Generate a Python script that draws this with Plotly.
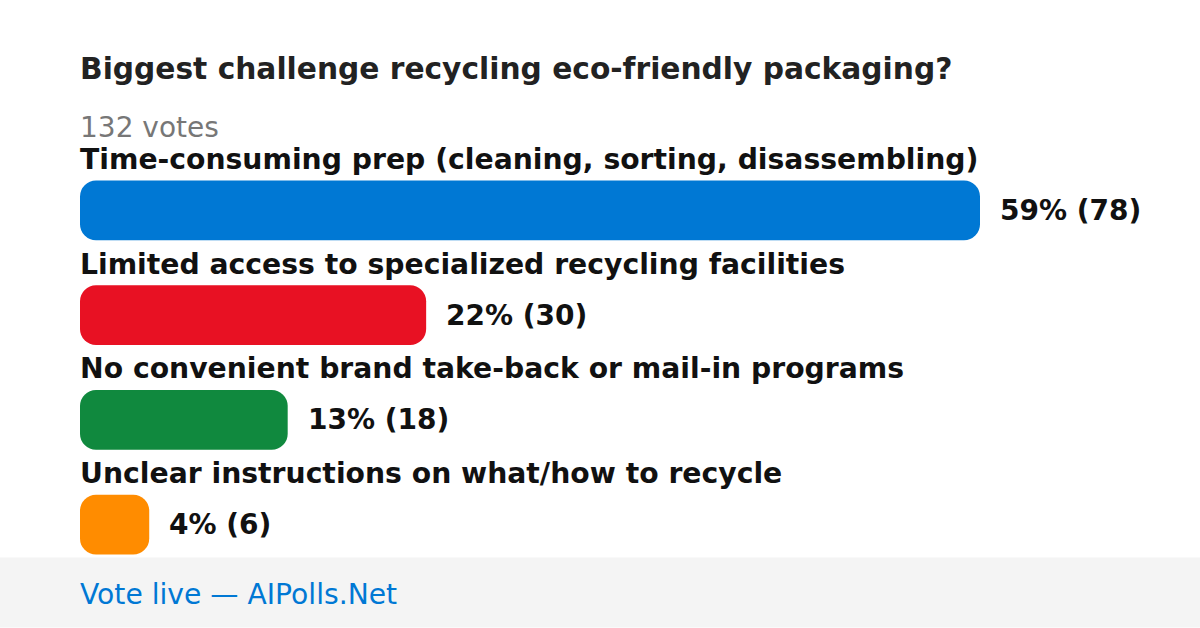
import plotly.graph_objects as go

title = "Biggest challenge recycling eco-friendly packaging?"
total_votes = 132
categories = [
    "Time-consuming prep (cleaning, sorting, disassembling)",
    "Limited access to specialized recycling facilities",
    "No convenient brand take-back or mail-in programs",
    "Unclear instructions on what/how to recycle",
]
votes = [78, 30, 18, 6]
percents = [59, 22, 13, 4]
colors = ["#0078d4", "#e81123", "#10893e", "#ff8c00"]
footer = "Vote live \u2014 AIPolls.Net"

FONT = "DejaVu Sans, sans-serif"
W, H = 1200, 628
ml, mr, mt, mb = 80, 120, 157.5, 50.5
plot_h = H - mt - mb

ypos = list(range(len(categories)))
bar_w = 60 / 105

fig = go.Figure()
fig.add_trace(go.Bar(
    x=votes, base=[0] * len(votes), y=ypos,
    orientation="h",
    marker=dict(color=colors, cornerradius=16, line=dict(width=0)),
    width=bar_w, hoverinfo="skip",
))

annotations = []
for i, (c, v, p) in enumerate(zip(categories, votes, percents)):
    annotations.append(dict(
        x=0, y=i, xref="x", yref="y", text=f"<b>{c}</b>",
        xanchor="left", yanchor="middle", yshift=51, showarrow=False,
        borderpad=0, borderwidth=0,
        font=dict(family=FONT, size=28.25, color="#111111"),
    ))
    annotations.append(dict(
        x=v, y=i, xref="x", yref="y", text=f"<b>{p}% ({v})</b>",
        xanchor="left", yanchor="middle", xshift=20, showarrow=False,
        borderpad=0, borderwidth=0,
        font=dict(family=FONT, size=28, color="#111111"),
    ))

def py(pix):
    return (H - mb - pix) / plot_h

annotations.append(dict(
    x=0, y=py(68), xref="paper", yref="paper", text=f"<b>{title}</b>",
    xanchor="left", yanchor="middle", showarrow=False,
    borderpad=0, borderwidth=0,
    font=dict(family=FONT, size=29.7, color="#222222"),
))
annotations.append(dict(
    x=0, y=py(127), xref="paper", yref="paper", text=f"{total_votes} votes",
    xanchor="left", yanchor="middle", showarrow=False,
    borderpad=0, borderwidth=0,
    font=dict(family=FONT, size=28, color="#777777"),
))
annotations.append(dict(
    x=0, y=py(595), xref="paper", yref="paper", text=footer,
    xanchor="left", yanchor="middle", showarrow=False,
    borderpad=0, borderwidth=0,
    font=dict(family=FONT, size=28.2, color="#0078d4"),
))

fig.update_layout(
    width=W, height=H,
    margin=dict(l=ml, r=mr, t=mt, b=mb, pad=0),
    paper_bgcolor="white", plot_bgcolor="white",
    showlegend=False, barmode="overlay",
    xaxis=dict(range=[0, max(votes) * 1000 / 900], visible=False, fixedrange=True),
    yaxis=dict(range=[len(categories) - 0.5, -0.5], visible=False, fixedrange=True),
    annotations=annotations,
    shapes=[dict(
        type="rect", xref="paper", yref="paper",
        x0=-ml / (W - ml - mr), x1=(W - ml) / (W - ml - mr),
        y0=py(H), y1=py(558),
        fillcolor="#f4f4f4", line=dict(width=0), layer="below",
    )],
)

fig.write_html(
    "out.html",
    config={"displayModeBar": False},
    post_script="document.body.style.margin='0';document.body.style.overflow='hidden';",
)
